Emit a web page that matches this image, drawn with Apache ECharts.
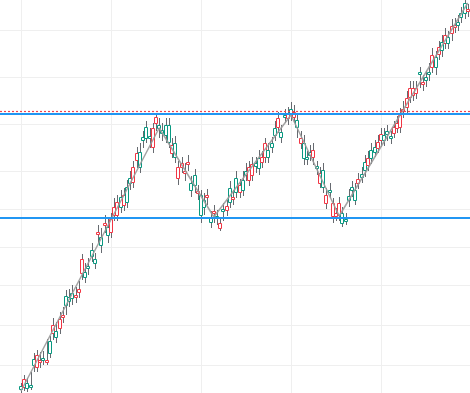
<!DOCTYPE html>
<html><head><meta charset="utf-8">
<script src="https://cdn.jsdelivr.net/npm/echarts@6/dist/echarts.min.js"></script>
<style>html,body{margin:0;padding:0;background:#fff}#c{width:470px;height:393px}</style>
</head><body><div id="c"></div>
<script>
// Candle open values
const opens = [4,14,5,6,28,38,33,33,33,40,68,56,74,78,88,92,95,98,104,134,
116,125,137,130,161,148,170,158,174,186,191,186,198,191,210,226,240,226,253,255,
255,265,276,265,260,258,251,248,236,226,230,222,231,203,208,202,178,186,198,171,
182,175,170,182,187,191,196,201,208,203,218,226,229,227,225,236,250,236,246,258,
275,256,277,280,279,281,266,255,235,234,238,243,225,220,206,198,201,190,180,190,
170,172,193,203,193,214,216,223,235,235,241,251,259,253,259,255,266,270,278,284,
295,305,305,305,319,311,313,319,338,326,346,343,358,350,367,368,368,376,380,384];
const closes = [7,6,10,8,34,26,31,35,31,52,60,62,65,77,97,96,100,96,101,120,
121,127,143,134,159,156,168,166,161,178,178,196,188,206,215,211,233,241,256,266,
257,246,270,268,263,268,268,240,250,215,226,220,229,210,218,200,198,193,196,176,
180,177,165,184,183,205,194,215,201,213,222,213,218,230,235,231,236,243,250,265,
266,261,278,275,284,276,273,250,250,236,241,236,227,210,223,190,203,177,177,178,
180,174,197,206,203,210,219,231,228,243,246,245,253,258,262,257,260,265,266,282,
286,296,298,300,321,309,316,321,326,336,339,351,350,356,360,366,371,380,390,382];
const highs = [10,18,15,21,40,43,41,42,54,57,75,71,81,86,103,104,108,106,112,139,
130,135,150,140,168,165,178,175,180,195,198,203,205,213,222,232,246,250,262,272,
265,270,280,275,270,275,275,255,257,232,236,230,238,217,224,208,203,200,204,182,
188,183,176,190,193,212,203,222,214,222,230,232,236,236,243,242,255,250,256,272,
281,268,284,286,291,288,280,262,258,242,248,250,232,226,230,205,210,195,185,196,
186,180,204,212,210,220,226,238,242,250,253,258,265,265,268,262,272,277,285,292,
302,312,312,312,326,318,322,330,345,342,352,358,365,362,374,375,378,386,393,389];
const lows = [0,2,1,3,21,21,25,28,28,35,53,50,59,70,78,86,88,90,95,113,
110,118,131,124,150,140,160,150,155,172,172,180,182,185,203,205,225,220,245,250,
245,240,262,255,252,250,245,235,230,208,220,212,222,196,200,193,170,178,188,165,
170,168,162,172,177,185,188,195,195,197,212,207,212,220,218,225,230,230,240,252,
260,250,270,268,272,270,255,244,228,228,232,228,218,205,200,184,195,170,172,172,
166,168,186,196,188,204,210,216,222,229,236,240,246,247,252,249,255,260,260,275,
280,290,292,294,305,302,306,312,320,318,333,336,344,344,352,360,362,370,374,376];

// Pattern zigzag pivots [index, price]
const pivotIdx = [0, 43, 60, 84, 99, 139];
const pivotVal = [2, 265, 176, 278, 177, 390];

// Horizontal levels
const resistanceLevel = 279;
const dottedLevel = 281.5;
const supportLevel = 175;

// Grid tick positions
const yTicks = [28, 68, 108, 146, 184, 222, 269, 316, 363];
const xTicks = [0, 28, 56, 84, 112];

const TEAL = '#089981', RED = '#f23645', WICK = '#666a70';

const candleData = opens.map((o, i) => [i, o, closes[i], lows[i], highs[i]]);
const zigzag = pivotIdx.map((x, k) => [x, pivotVal[k]]);

const chart = echarts.init(document.getElementById('c'), null, {renderer: 'canvas'});
chart.setOption({
  animation: false,
  backgroundColor: '#ffffff',
  grid: {left: 0, right: 0, top: 0, bottom: 0, containLabel: false},
  xAxis: {
    type: 'value', min: -6.53, max: 139.7,
    axisLine: {show: false}, axisLabel: {show: false},
    axisTick: {show: false, customValues: xTicks},
    splitLine: {show: true, lineStyle: {color: '#efefef', width: 1}}
  },
  yAxis: {
    type: 'value', min: 0, max: 393,
    axisLine: {show: false}, axisLabel: {show: false},
    axisTick: {show: false, customValues: yTicks},
    splitLine: {show: true, lineStyle: {color: '#efefef', width: 1}}
  },
  series: [
    {
      type: 'line', data: [[-6.53, supportLevel]], symbol: 'none', lineStyle: {opacity: 0},
      silent: true, z: 1,
      markLine: {
        silent: true, symbol: 'none', label: {show: false},
        data: [
          {yAxis: dottedLevel, lineStyle: {color: '#f0434f', width: 1.2, type: [2, 2]}},
          {yAxis: resistanceLevel, lineStyle: {color: '#2196f3', width: 2, type: 'solid'}},
          {yAxis: supportLevel, lineStyle: {color: '#2196f3', width: 2, type: 'solid'}}
        ]
      }
    },
    {
      type: 'custom', z: 3,
      data: candleData,
      encode: {x: 0, y: [1, 2, 3, 4]},
      renderItem: function (params, api) {
        const i = api.value(0), o = api.value(1), c = api.value(2), l = api.value(3), h = api.value(4);
        const pO = api.coord([i, o]), pC = api.coord([i, c]), pL = api.coord([i, l]), pH = api.coord([i, h]);
        const n = Math.round(pO[0]);
        const xc = n + 0.5;
        const top = Math.round(Math.min(pO[1], pC[1])) + 0.5;
        let bot = Math.round(Math.max(pO[1], pC[1])) + 0.5;
        if (bot - top < 2) bot = top + 2;
        const up = c >= o;
        return {
          type: 'group',
          children: [
            {type: 'line', shape: {x1: xc, y1: pH[1], x2: xc, y2: pL[1]}, style: {stroke: WICK, lineWidth: 1}},
            {type: 'rect', shape: {x: n - 1.5, y: top, width: 3, height: bot - top},
              style: {fill: '#ffffff', stroke: up ? TEAL : RED, lineWidth: 1}}
          ]
        };
      }
    },
    {
      type: 'line', data: zigzag, symbol: 'none', z: 4, silent: true,
      lineStyle: {color: '#9a9a9a', width: 1.5, opacity: 0.9}
    }
  ]
});
</script></body></html>
